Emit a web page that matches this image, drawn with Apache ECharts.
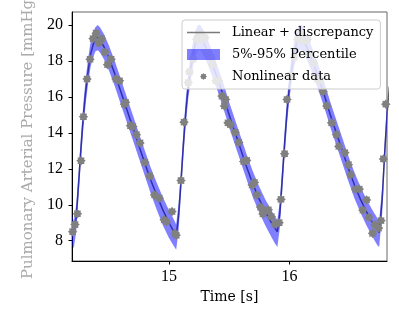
<!DOCTYPE html>
<html><head><meta charset="utf-8">
<script src="https://cdn.jsdelivr.net/npm/echarts@6/dist/echarts.min.js"></script>
<style>html,body{margin:0;padding:0;background:#fff}#c{width:399px;height:319px}</style>
</head><body><div id="c"></div>
<script>
// ---- data ----
const lineT = [14.19,14.21,14.23,14.25,14.27,14.29,14.31,14.33,14.35,14.37,14.39,14.41,14.43,14.46,14.50,14.55,14.60,14.65,14.70,14.75,14.80,14.85,14.90,14.95,15.00,15.04,15.06,
15.08,15.10,15.12,15.14,15.16,15.18,15.20,15.22,15.24,15.26,15.28,15.31,15.35,15.40,15.45,15.50,15.55,15.60,15.65,15.70,15.75,15.80,15.85,15.88,15.90,
15.92,15.94,15.96,15.98,16.00,16.02,16.04,16.06,16.08,16.10,16.12,16.15,16.19,16.24,16.29,16.34,16.39,16.44,16.49,16.54,16.59,16.64,16.69,16.73,16.745,16.77,16.79,16.81,16.83];
const lineV = [8.6,8.4,9.3,11.2,13.2,15.0,16.4,17.5,18.4,18.9,19.25,19.3,19.15,18.8,18.2,17.3,16.3,15.3,14.3,13.3,12.3,11.35,10.5,9.7,9.0,8.5,8.25,
9.4,11.3,13.4,15.2,16.6,17.6,18.4,19.0,19.3,19.3,19.1,18.7,18.0,17.1,16.1,15.0,14.0,13.0,12.0,11.1,10.3,9.6,9.0,8.7,8.5,
9.5,11.4,13.4,15.2,16.6,17.6,18.4,19.0,19.3,19.3,19.1,18.7,18.0,17.1,16.1,15.0,14.0,13.0,12.0,11.1,10.3,9.6,9.0,8.6,8.45,10.3,12.8,15.0,16.6];
const bandHi = [9.5,9.1,10.0,11.9,13.9,15.7,17.1,18.2,19.1,19.6,19.9,20.0,19.85,19.5,18.9,18.0,17.0,16.0,15.0,14.0,13.0,12.05,11.2,10.4,9.7,9.2,8.9,
10.1,12.0,14.1,15.9,17.3,18.3,19.1,19.7,20.0,20.0,19.8,19.4,18.7,17.8,16.8,15.7,14.7,13.7,12.7,11.8,11.0,10.3,9.7,9.35,9.15,
10.2,12.1,14.1,15.9,17.3,18.3,19.1,19.7,20.0,20.0,19.8,19.4,18.7,17.8,16.8,15.7,14.7,13.7,12.7,11.8,11.0,10.3,9.7,9.25,9.1,11.0,13.5,15.7,17.3];
const bandLo = [7.8,7.6,8.5,10.5,12.5,14.3,15.7,16.8,17.7,18.2,18.55,18.6,18.45,18.1,17.5,16.6,15.6,14.6,13.6,12.6,11.6,10.6,9.7,8.85,8.15,7.7,7.5,
8.6,10.6,12.7,14.5,15.9,16.9,17.7,18.3,18.6,18.6,18.4,18.0,17.3,16.4,15.4,14.3,13.3,12.3,11.3,10.35,9.55,8.85,8.2,7.85,7.65,
8.7,10.7,12.7,14.5,15.9,16.9,17.7,18.3,18.6,18.6,18.4,18.0,17.3,16.4,15.4,14.3,13.3,12.3,11.3,10.35,9.55,8.85,8.2,7.75,7.65,9.5,12.1,14.3,15.9];
const dataT = [14.20,14.22,14.24,14.27,14.29,14.32,14.345,14.37,14.395,14.42,14.44,14.47,14.49,14.52,14.56,14.59,14.63,14.64,14.68,14.70,14.73,14.76,14.80,14.84,14.88,14.92,14.96,14.98,15.025,15.05,15.06,
15.10,15.125,15.16,15.17,15.20,15.23,15.26,15.28,15.30,15.32,15.35,15.36,15.39,15.41,15.44,15.46,15.47,15.49,15.51,15.55,15.58,15.62,15.645,15.69,15.71,15.73,15.76,15.78,15.80,15.825,15.85,15.88,15.915,15.93,15.96,15.98,
16.01,16.04,16.07,16.10,16.12,16.15,16.17,16.20,16.23,16.25,16.28,16.31,16.35,16.39,16.41,16.46,16.49,16.51,16.55,16.58,16.61,16.64,16.66,16.69,16.71,16.74,16.76,16.78,16.80];
const dataV = [8.5,8.9,9.5,12.45,14.9,17.0,18.1,19.25,19.55,19.0,19.25,18.5,17.8,18.1,17.0,16.9,15.6,15.7,14.4,14.35,13.9,13.44,12.36,11.6,10.55,10.37,9.16,9.06,9.62,8.4,8.3,
11.35,14.6,16.8,17.4,18.1,19.2,19.5,19.2,19.3,18.5,18.2,17.8,16.9,16.9,16.05,15.5,15.86,14.56,14.46,14.03,13.47,12.41,12.47,11.1,11.24,10.55,9.87,9.49,9.68,9.72,9.34,8.93,9.0,10.3,12.84,15.86,
17.2,18.2,19.2,19.5,19.1,19.2,18.4,17.9,17.0,16.9,16.3,15.5,14.56,13.9,13.25,12.9,12.23,11.67,10.87,10.87,9.7,10.27,9.3,8.41,8.88,8.7,9.12,12.55,15.6];
const yTicks = [8,10,12,14,16,18,20];
const xTicks = [15,16];
const names = ['Linear + discrepancy','5%-95% Percentile','Nonlinear data'];

const starPath = 'path://M5 0 L3.33 1.38 L3.54 3.54 L1.38 3.33 L0 5 L-1.38 3.33 L-3.54 3.54 L-3.33 1.38 L-5 0 L-3.33 -1.38 L-3.54 -3.54 L-1.38 -3.33 L0 -5 L1.38 -3.33 L3.54 -3.54 L3.33 -1.38 Z';
const starIcon = 'path://M-4.5 -5.5 M4.5 5.5 M3.5 0 L2.33 0.97 L2.48 2.48 L0.97 2.33 L0 3.5 L-0.97 2.33 L-2.48 2.48 L-2.33 0.97 L-3.5 0 L-2.33 -0.97 L-2.48 -2.48 L-0.97 -2.33 L0 -3.5 L0.97 -2.33 L2.48 -2.48 L2.33 -0.97 Z';
const lineIcon = 'path://M0 0 L33 0 L33 1.6 L0 1.6 Z';

const chart = echarts.init(document.getElementById('c'), null, {renderer:'canvas'});
const serif = 'DejaVu Serif';
chart.setOption({
  animation:false,
  grid:{left:72,top:12,right:12,bottom:58,outerBoundsMode:'none',containLabel:false,show:true,borderColor:'#666',borderWidth:1,backgroundColor:'transparent'},
  xAxis:{type:'value',min:14.195,max:16.81,
    axisLine:{show:true,lineStyle:{color:'#000',width:1}},
    axisTick:{show:true,customValues:xTicks,length:3.5,lineStyle:{color:'#000'}},
    axisLabel:{customValues:xTicks,margin:8,color:'#000',fontFamily:'Liberation Serif',fontSize:16},
    splitLine:{show:false},
    name:'Time [s]',nameLocation:'middle',nameGap:27,
    nameTextStyle:{color:'#000',fontFamily:serif,fontSize:14}},
  yAxis:{type:'value',min:6.87,max:20.73,
    axisLine:{show:true,lineStyle:{color:'#000',width:1}},
    axisTick:{show:true,customValues:yTicks,length:3.5,lineStyle:{color:'#000'}},
    axisLabel:{customValues:yTicks,margin:9,color:'#000',fontFamily:'Liberation Serif',fontSize:16},
    splitLine:{show:false},
    name:'Pulmonary Arterial Pressure [mmHg]',nameLocation:'middle',nameGap:33,
    nameTextStyle:{color:'#aaa',fontFamily:serif,fontSize:15}},
  legend:{orient:'vertical',left:182,top:20,padding:[6,7,6,5],itemWidth:33,itemHeight:11,itemGap:9,
    backgroundColor:'rgba(255,255,255,0.8)',borderColor:'#ccc',borderWidth:1,borderRadius:3,
    textStyle:{color:'#000',fontFamily:serif,fontSize:13,padding:[0,0,0,7]},
    data:[{name:names[0],icon:lineIcon},{name:names[1],icon:'rect'},{name:names[2],icon:starIcon}]},
  series:[
    {name:names[0],type:'line',z:1,symbol:'none',showSymbol:false,clip:true,
     data:lineT.map((t,i)=>[t,lineV[i]]),
     lineStyle:{color:'#5e5e5e',width:1.5},itemStyle:{color:'#7a7a7a'}},
    {name:names[1],type:'custom',z:2,clip:true,
     itemStyle:{color:'rgba(0,0,255,0.5)'},
     data:lineT.map((t,i)=>[t,bandLo[i],bandHi[i]]),
     encode:{x:0,y:[1,2]},
     renderItem:function(params,api){
       if(params.dataIndex!==0) return null;
       const pts=[];
       for(let i=0;i<lineT.length;i++) pts.push(api.coord([lineT[i],bandHi[i]]));
       for(let i=lineT.length-1;i>=0;i--) pts.push(api.coord([lineT[i],bandLo[i]]));
       return {type:'polygon',shape:{points:pts},style:{fill:'rgba(0,0,255,0.5)'},
         clipPath:{type:'rect',shape:{x:params.coordSys.x,y:params.coordSys.y,width:params.coordSys.width,height:params.coordSys.height}}};
     }},
    {name:names[2],type:'scatter',z:3,symbol:starPath,symbolSize:9.5,
     data:dataT.map((t,i)=>[t,dataV[i]]),
     itemStyle:{color:'#808080',opacity:1}}
  ]
});
</script></body></html>
